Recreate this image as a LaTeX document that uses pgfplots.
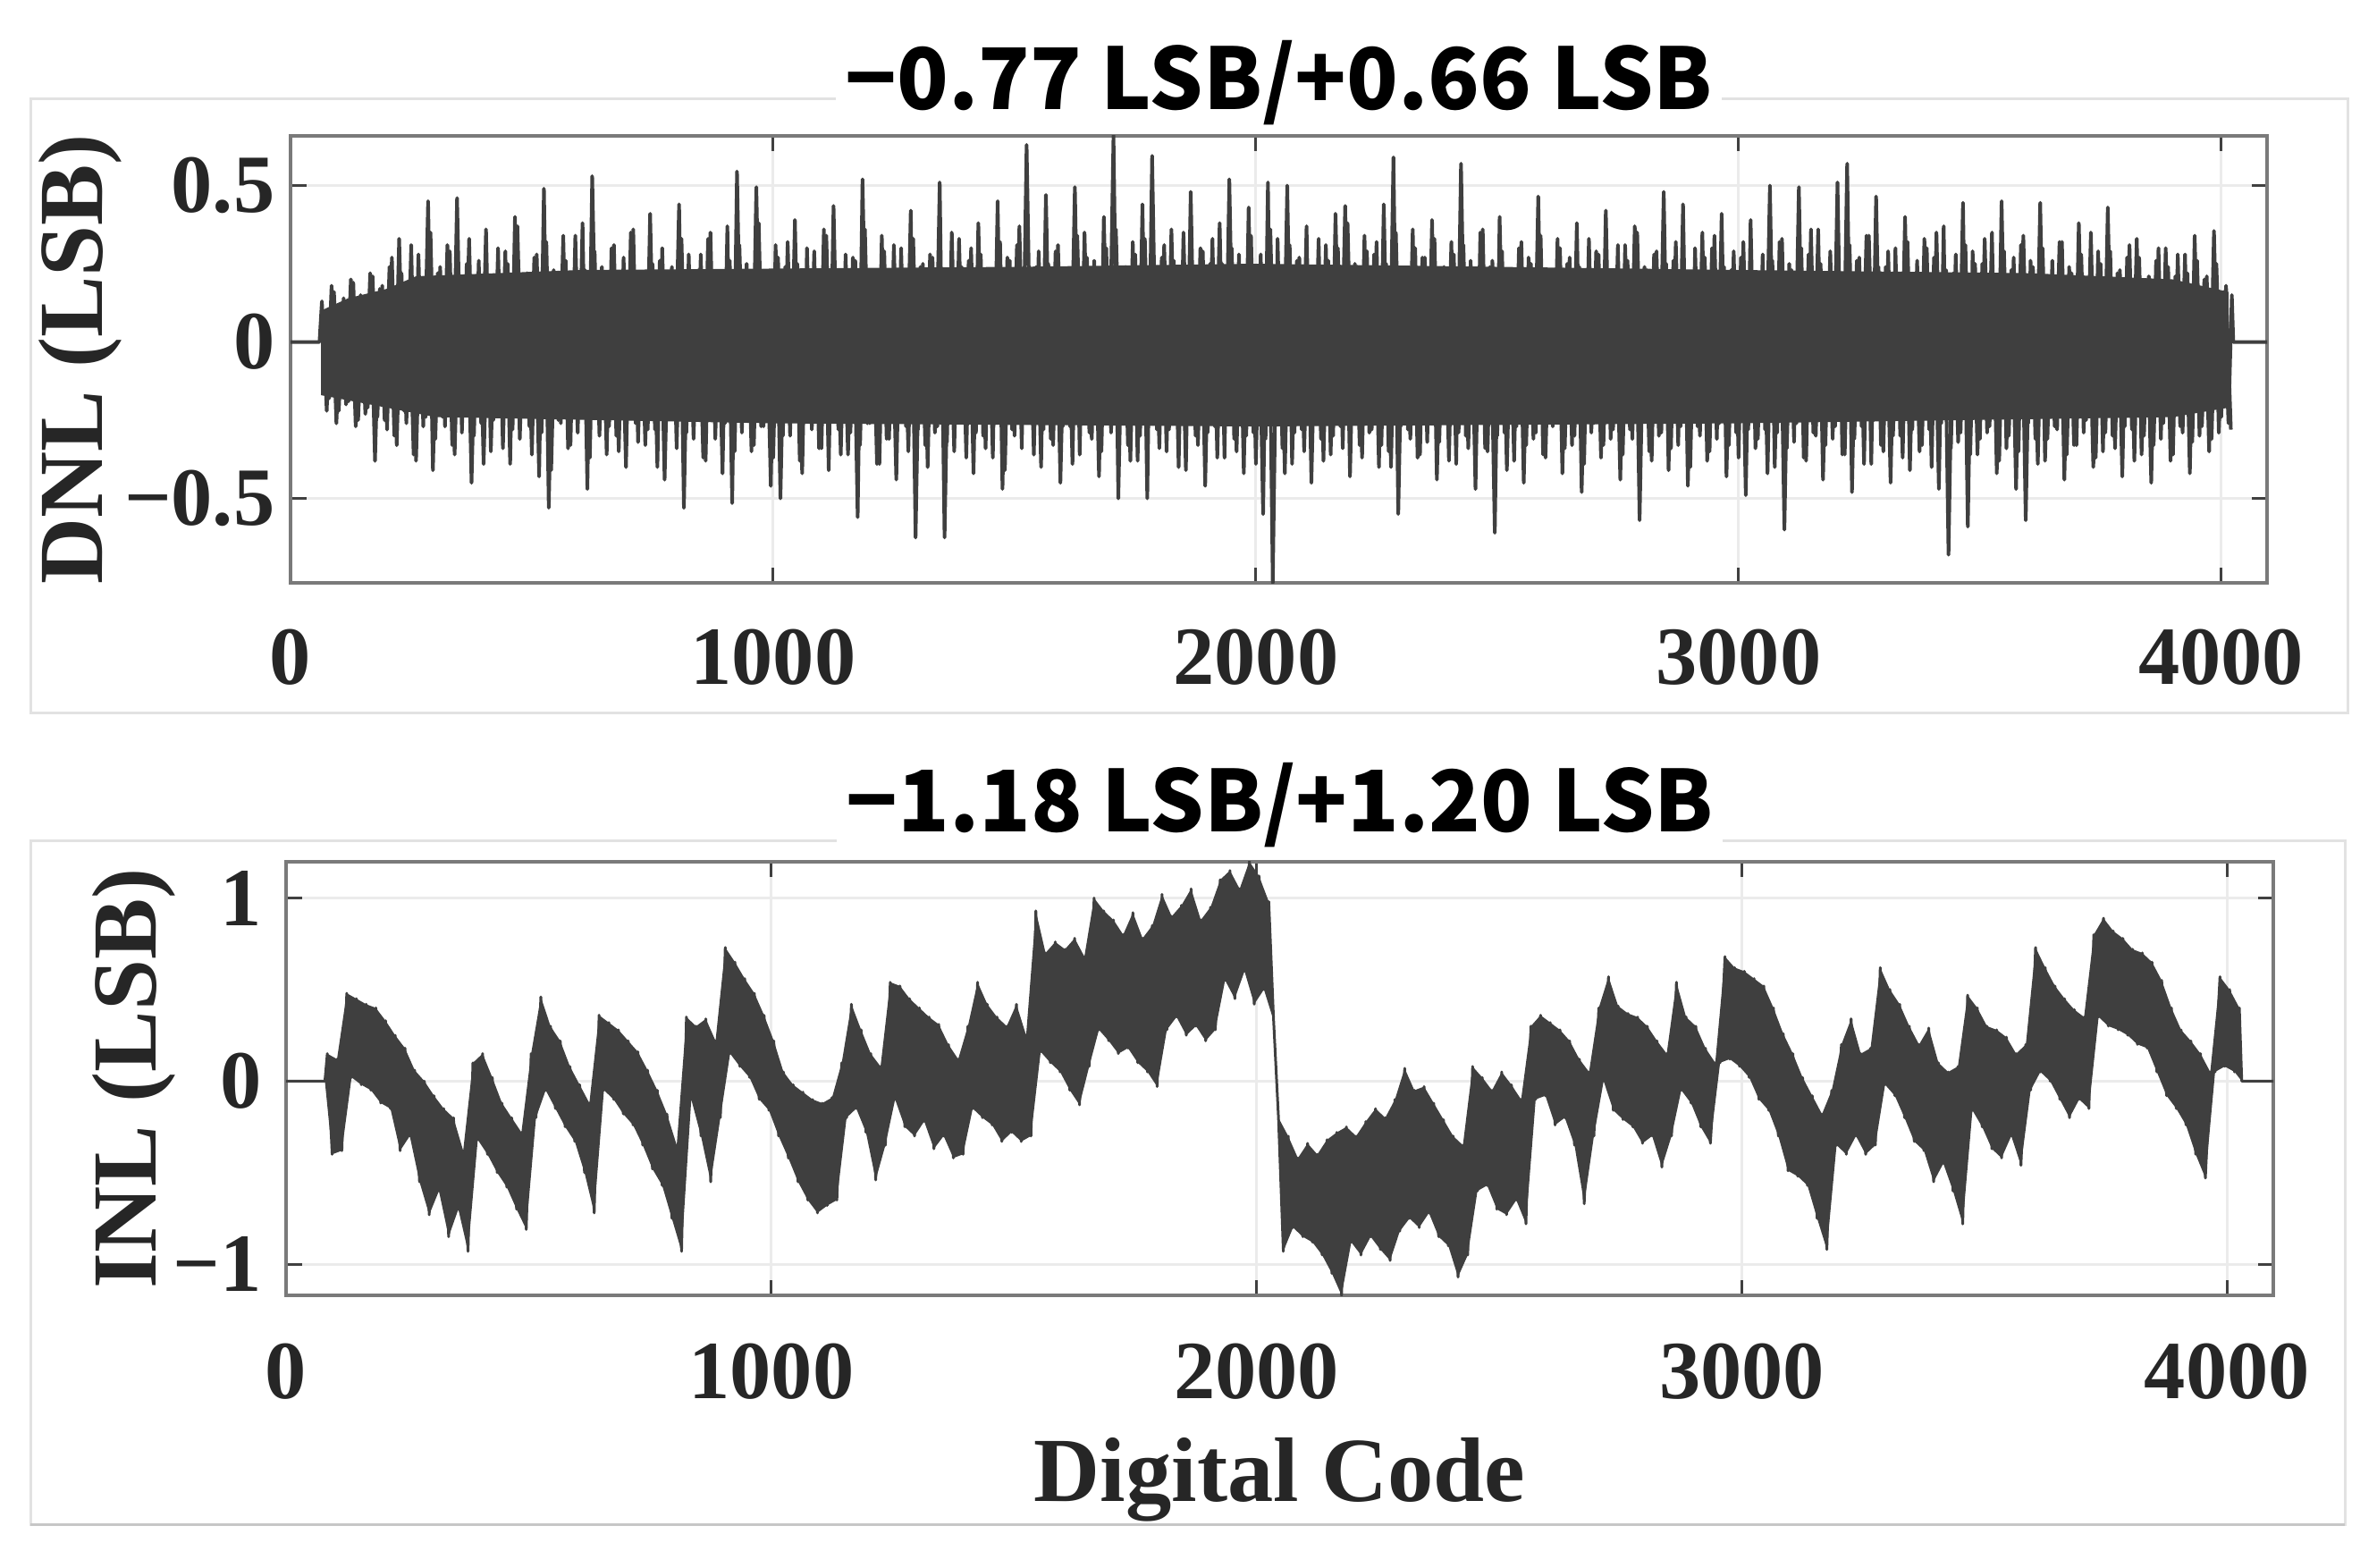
\documentclass[border=0pt]{standalone}
\usepackage{fontspec}
\setmainfont{Liberation Serif}
\newfontfamily\titlefont{Noto Sans CJK KR}
\usepackage{pgfplots}
\pgfplotsset{compat=1.18}
\definecolor{dat}{HTML}{3F3F3F}
\definecolor{axc}{HTML}{7A7A7A}
\definecolor{frm}{HTML}{E2E2E2}
\pgfplotsset{
  myax/.style={
    scale only axis, anchor=north west,
    xmin=0, xmax=4095,
    xtick={0,1000,2000,3000,4000},
    xticklabels={0,1000,2000,3000,4000},
    grid=major, major grid style={gray!16, line width=0.6pt},
    axis line style={axc, line width=0.8pt},
    tick style={black!75, line width=0.6pt},
    major tick length=3.5pt,
    tick align=inside,
    ticklabel style={font=\bfseries\fontsize{18.5}{20}\selectfont, text=black!85},
    every axis title/.style={at={(axis description cs:0.5,1)}, anchor=base,
      font=\titlefont\bfseries\fontsize{19}{22}\selectfont, fill=white, inner sep=2pt},
    every axis x label/.style={at={(axis description cs:0.5,0)}, anchor=base,
      font=\bfseries\fontsize{20.5}{22}\selectfont, text=black!85},
  }
}
\begin{document}
\begin{tikzpicture}
\path[use as bounding box] (0pt,0pt) rectangle (531.8pt,-350.6pt);
\draw[frm, line width=0.6pt] (6.8pt,-22pt) rectangle (525.2pt,-159.4pt);
\draw[frm, line width=0.6pt] (6.8pt,-188pt) rectangle (524.6pt,-341pt);
\draw[gray!45, line width=0.6pt] (6.8pt,-341pt) -- (524.6pt,-341pt);

\begin{axis}[myax,
  at={(65pt,-30.3pt)}, width=442.2pt, height=100.1pt,
  ymin=-0.77, ymax=0.66,
  ytick={-0.5,0,0.5}, yticklabels={−0.5,0,0.5},
  xticklabel style={anchor=base, yshift=-22.6pt},
  title={−0.77 LSB/+0.66 LSB},
  title style={yshift=5.9pt},
  ylabel={DNL (LSB)},
  every axis y label/.style={at={(axis description cs:0,0.5)}, xshift=-42.2pt, rotate=90, anchor=base,
      font=\bfseries\fontsize{20.5}{22}\selectfont, text=black!85},
]
\addplot[fill=dat, draw=none] coordinates {(63,0.10) (120,0.14) (200,0.17) (260,0.21) (600,0.23) (1500,0.24) (2000,0.25) (2500,0.24) (3000,0.23) (3600,0.22) (3900,0.20) (4015,0.16) (4015,-0.21) (3900,-0.24) (3000,-0.26) (2000,-0.27) (1000,-0.26) (300,-0.24) (200,-0.21) (63,-0.17)} --cycle;
% codes 70, 80, 90, ...
\addplot[dat, line width=0.8pt, line join=round] table[row sep=\\] {x y\\
70 0.10\\ 80 -0.18\\ 90 0.16\\ 100 -0.22\\ 110 0.14\\ 120 -0.19\\ 130 0.19\\ 140 -0.25\\ 150 0.12\\ 160 -0.21\\
170 0.21\\ 180 -0.24\\ 190 0.18\\ 200 -0.28\\ 210 0.27\\ 220 -0.33\\ 230 0.22\\ 240 -0.26\\ 250 0.31\\ 260 -0.38\\
270 0.19\\ 280 -0.24\\ 290 0.35\\ 300 -0.31\\ 310 0.24\\ 320 -0.27\\ 330 0.29\\ 340 -0.36\\ 350 0.21\\ 360 -0.23\\
370 0.33\\ 380 -0.30\\ 390 0.26\\ 400 -0.39\\ 410 0.18\\ 420 -0.25\\ 430 0.30\\ 440 -0.34\\ 450 0.25\\ 460 -0.28\\
470 0.37\\ 480 -0.22\\ 490 0.22\\ 500 -0.36\\ 510 0.28\\ 520 -0.29\\ 530 0.32\\ 540 -0.41\\ 550 0.20\\ 560 -0.26\\
570 0.26\\ 580 -0.33\\ 590 0.34\\ 600 -0.24\\ 610 0.23\\ 620 -0.37\\ 630 0.29\\ 640 -0.30\\ 650 0.19\\ 660 -0.27\\
670 0.31\\ 680 -0.35\\ 690 0.27\\ 700 -0.22\\ 710 0.36\\ 720 -0.32\\ 730 0.21\\ 740 -0.28\\ 750 0.25\\ 760 -0.40\\
770 0.30\\ 780 -0.25\\ 790 0.24\\ 800 -0.34\\ 810 0.33\\ 820 -0.29\\ 830 0.20\\ 840 -0.23\\ 850 0.28\\ 860 -0.38\\
870 0.35\\ 880 -0.31\\ 890 0.22\\ 900 -0.26\\ 910 0.26\\ 920 -0.35\\ 930 0.31\\ 940 -0.24\\ 950 0.19\\ 960 -0.33\\
970 0.38\\ 980 -0.27\\ 990 0.21\\ 1000 -0.37\\ 1010 0.27\\ 1020 -0.30\\ 1030 0.32\\ 1040 -0.25\\ 1050 0.25\\ 1060 -0.42\\
1070 0.30\\ 1080 -0.28\\ 1090 0.20\\ 1100 -0.34\\ 1110 0.34\\ 1120 -0.23\\ 1130 0.23\\ 1140 -0.36\\ 1150 0.28\\ 1160 -0.29\\
1170 0.26\\ 1180 -0.33\\ 1190 0.36\\ 1200 -0.26\\ 1210 0.22\\ 1220 -0.39\\ 1230 0.29\\ 1240 -0.31\\ 1250 0.31\\ 1260 -0.24\\
1270 0.19\\ 1280 -0.35\\ 1290 0.33\\ 1300 -0.28\\ 1310 0.25\\ 1320 -0.40\\ 1330 0.27\\ 1340 -0.27\\ 1350 0.21\\ 1360 -0.32\\
1370 0.35\\ 1380 -0.25\\ 1390 0.24\\ 1400 -0.37\\ 1410 0.30\\ 1420 -0.29\\ 1430 0.28\\ 1440 -0.34\\ 1450 0.22\\ 1460 -0.26\\
1470 0.32\\ 1480 -0.41\\ 1490 0.26\\ 1500 -0.30\\ 1510 0.37\\ 1520 -0.24\\ 1530 0.20\\ 1540 -0.36\\ 1550 0.29\\ 1560 -0.28\\
1570 0.25\\ 1580 -0.33\\ 1590 0.31\\ 1600 -0.27\\ 1610 0.23\\ 1620 -0.39\\ 1630 0.34\\ 1640 -0.25\\ 1650 0.27\\ 1660 -0.31\\
1670 0.21\\ 1680 -0.35\\ 1690 0.30\\ 1700 -0.29\\ 1710 0.36\\ 1720 -0.23\\ 1730 0.24\\ 1740 -0.38\\ 1750 0.28\\ 1760 -0.30\\
1770 0.33\\ 1780 -0.26\\ 1790 0.22\\ 1800 -0.34\\ 1810 0.31\\ 1820 -0.28\\ 1830 0.26\\ 1840 -0.40\\ 1850 0.35\\ 1860 -0.25\\
1870 0.23\\ 1880 -0.33\\ 1890 0.29\\ 1900 -0.29\\ 1910 0.33\\ 1920 -0.37\\ 1930 0.25\\ 1940 -0.26\\ 1950 0.30\\ 1960 -0.35\\
1970 0.21\\ 1980 -0.30\\ 1990 0.34\\ 2000 -0.39\\ 2010 0.28\\ 2020 -0.31\\ 2030 0.36\\ 2040 -0.27\\ 2050 0.24\\ 2060 -0.42\\
2070 0.31\\ 2080 -0.29\\ 2090 0.27\\ 2100 -0.35\\ 2110 0.22\\ 2120 -0.26\\ 2130 0.33\\ 2140 -0.38\\ 2150 0.26\\ 2160 -0.30\\
2170 0.30\\ 2180 -0.34\\ 2190 0.38\\ 2200 -0.25\\ 2210 0.23\\ 2220 -0.37\\ 2230 0.29\\ 2240 -0.28\\ 2250 0.32\\ 2260 -0.33\\
2270 0.25\\ 2280 -0.40\\ 2290 0.35\\ 2300 -0.27\\ 2310 0.21\\ 2320 -0.31\\ 2330 0.30\\ 2340 -0.36\\ 2350 0.27\\ 2360 -0.25\\
2370 0.33\\ 2380 -0.32\\ 2390 0.24\\ 2400 -0.38\\ 2410 0.28\\ 2420 -0.29\\ 2430 0.31\\ 2440 -0.34\\ 2450 0.22\\ 2460 -0.26\\
2470 0.36\\ 2480 -0.35\\ 2490 0.26\\ 2500 -0.30\\ 2510 0.29\\ 2520 -0.41\\ 2530 0.23\\ 2540 -0.27\\ 2550 0.32\\ 2560 -0.33\\
2570 0.25\\ 2580 -0.29\\ 2590 0.34\\ 2600 -0.37\\ 2610 0.20\\ 2620 -0.25\\ 2630 0.30\\ 2640 -0.34\\ 2650 0.27\\ 2660 -0.30\\
2670 0.24\\ 2680 -0.39\\ 2690 0.33\\ 2700 -0.26\\ 2710 0.28\\ 2720 -0.33\\ 2730 0.22\\ 2740 -0.28\\ 2750 0.31\\ 2760 -0.36\\
2770 0.26\\ 2780 -0.31\\ 2790 0.35\\ 2800 -0.25\\ 2810 0.23\\ 2820 -0.38\\ 2830 0.29\\ 2840 -0.29\\ 2850 0.25\\ 2860 -0.34\\
2870 0.32\\ 2880 -0.27\\ 2890 0.21\\ 2900 -0.40\\ 2910 0.30\\ 2920 -0.30\\ 2930 0.27\\ 2940 -0.35\\ 2950 0.34\\ 2960 -0.26\\
2970 0.24\\ 2980 -0.33\\ 2990 0.29\\ 3000 -0.37\\ 3010 0.32\\ 3020 -0.28\\ 3030 0.22\\ 3040 -0.31\\ 3050 0.28\\ 3060 -0.42\\
3070 0.26\\ 3080 -0.29\\ 3090 0.33\\ 3100 -0.34\\ 3110 0.23\\ 3120 -0.26\\ 3130 0.30\\ 3140 -0.38\\ 3150 0.36\\ 3160 -0.30\\
3170 0.25\\ 3180 -0.33\\ 3190 0.29\\ 3200 -0.27\\ 3210 0.21\\ 3220 -0.36\\ 3230 0.31\\ 3240 -0.31\\ 3250 0.27\\ 3260 -0.39\\
3270 0.34\\ 3280 -0.25\\ 3290 0.24\\ 3300 -0.35\\ 3310 0.29\\ 3320 -0.30\\ 3330 0.22\\ 3340 -0.37\\ 3350 0.32\\ 3360 -0.28\\
3370 0.26\\ 3380 -0.33\\ 3390 0.30\\ 3400 -0.40\\ 3410 0.35\\ 3420 -0.26\\ 3430 0.23\\ 3440 -0.34\\ 3450 0.28\\ 3460 -0.29\\
3470 0.31\\ 3480 -0.36\\ 3490 0.25\\ 3500 -0.31\\ 3510 0.33\\ 3520 -0.27\\ 3530 0.21\\ 3540 -0.38\\ 3550 0.29\\ 3560 -0.30\\
3570 0.27\\ 3580 -0.35\\ 3590 0.34\\ 3600 -0.26\\ 3610 0.24\\ 3620 -0.39\\ 3630 0.30\\ 3640 -0.31\\ 3650 0.26\\ 3660 -0.28\\
3670 0.32\\ 3680 -0.36\\ 3690 0.22\\ 3700 -0.33\\ 3710 0.28\\ 3720 -0.25\\ 3730 0.35\\ 3740 -0.37\\ 3750 0.25\\ 3760 -0.29\\
3770 0.29\\ 3780 -0.34\\ 3790 0.23\\ 3800 -0.27\\ 3810 0.31\\ 3820 -0.38\\ 3830 0.27\\ 3840 -0.30\\ 3850 0.21\\ 3860 -0.33\\
3870 0.30\\ 3880 -0.26\\ 3890 0.24\\ 3900 -0.36\\ 3910 0.28\\ 3920 -0.29\\ 3930 0.22\\ 3940 -0.32\\ 3950 0.26\\ 3960 -0.27\\
3970 0.21\\ 3980 -0.31\\ 3990 0.25\\ 4000 -0.24\\ 4010 0.18\\ 4020 -0.28\\
};
% codes 65, 75, 85, ...
\addplot[dat, line width=0.8pt, line join=round] table[row sep=\\] {x y\\
0 0\\ 60 0\\
65 0.13\\ 75 -0.22\\ 85 0.18\\ 95 -0.26\\ 105 0.11\\ 115 -0.20\\ 125 0.20\\ 135 -0.27\\ 145 0.15\\ 155 -0.23\\
165 0.22\\ 175 -0.38\\ 185 0.17\\ 195 -0.25\\ 205 0.24\\ 215 -0.30\\ 225 0.33\\ 235 -0.22\\ 245 0.19\\ 255 -0.36\\
265 0.28\\ 275 -0.27\\ 285 0.45\\ 295 -0.41\\ 305 0.22\\ 315 -0.24\\ 325 0.31\\ 335 -0.33\\ 345 0.46\\ 355 -0.29\\
365 0.25\\ 375 -0.45\\ 385 0.18\\ 395 -0.26\\ 405 0.36\\ 415 -0.35\\ 425 0.21\\ 435 -0.22\\ 445 0.29\\ 455 -0.39\\
465 0.40\\ 475 -0.31\\ 485 0.19\\ 495 -0.27\\ 505 0.27\\ 515 -0.43\\ 525 0.49\\ 535 -0.53\\ 545 0.23\\ 555 -0.25\\
565 0.34\\ 575 -0.34\\ 585 0.20\\ 595 -0.29\\ 605 0.38\\ 615 -0.47\\ 625 0.53\\ 635 -0.23\\ 645 0.24\\ 655 -0.36\\
665 0.30\\ 675 -0.30\\ 685 0.18\\ 695 -0.40\\ 705 0.35\\ 715 -0.26\\ 725 0.22\\ 735 -0.33\\ 745 0.41\\ 755 -0.28\\
765 0.26\\ 775 -0.44\\ 785 0.19\\ 795 -0.24\\ 805 0.44\\ 815 -0.53\\ 825 0.28\\ 835 -0.31\\ 845 0.23\\ 855 -0.37\\
865 0.33\\ 875 -0.25\\ 885 0.21\\ 895 -0.42\\ 905 0.37\\ 915 -0.515\\ 925 0.545\\ 935 -0.29\\ 945 0.25\\ 955 -0.35\\
965 0.495\\ 975 -0.27\\ 985 0.20\\ 995 -0.46\\ 1005 0.31\\ 1015 -0.50\\ 1025 0.24\\ 1035 -0.30\\ 1045 0.39\\ 1055 -0.38\\
1065 0.22\\ 1075 -0.24\\ 1085 0.29\\ 1095 -0.34\\ 1105 0.36\\ 1115 -0.41\\ 1125 0.435\\ 1135 -0.28\\ 1145 0.19\\ 1155 -0.36\\
1165 0.27\\ 1175 -0.56\\ 1185 0.52\\ 1195 -0.26\\ 1205 0.23\\ 1215 -0.39\\ 1225 0.34\\ 1235 -0.31\\ 1245 0.20\\ 1255 -0.44\\
1265 0.30\\ 1275 -0.27\\ 1285 0.42\\ 1295 -0.625\\ 1305 0.24\\ 1315 -0.33\\ 1325 0.28\\ 1335 -0.29\\ 1345 0.51\\ 1355 -0.625\\
1365 0.21\\ 1375 -0.35\\ 1385 0.33\\ 1395 -0.25\\ 1405 0.26\\ 1415 -0.42\\ 1425 0.38\\ 1435 -0.30\\ 1445 0.22\\ 1455 -0.37\\
1465 0.45\\ 1475 -0.47\\ 1485 0.27\\ 1495 -0.28\\ 1505 0.31\\ 1515 -0.34\\ 1525 0.63\\ 1535 -0.26\\ 1545 0.24\\ 1555 -0.40\\
1565 0.47\\ 1575 -0.31\\ 1585 0.29\\ 1595 -0.45\\ 1605 0.21\\ 1615 -0.27\\ 1625 0.495\\ 1635 -0.36\\ 1645 0.35\\ 1655 -0.29\\
1665 0.26\\ 1675 -0.43\\ 1685 0.40\\ 1695 -0.25\\ 1705 0.66\\ 1715 -0.50\\ 1725 0.23\\ 1735 -0.33\\ 1745 0.32\\ 1755 -0.38\\
1765 0.44\\ 1775 -0.50\\ 1785 0.595\\ 1795 -0.28\\ 1805 0.27\\ 1815 -0.35\\ 1825 0.36\\ 1835 -0.26\\ 1845 0.22\\ 1855 -0.41\\
1865 0.48\\ 1875 -0.30\\ 1885 0.30\\ 1895 -0.46\\ 1905 0.25\\ 1915 -0.27\\ 1925 0.38\\ 1935 -0.37\\ 1945 0.52\\ 1955 -0.31\\
1965 0.28\\ 1975 -0.42\\ 1985 0.43\\ 1995 -0.29\\ 2005 0.24\\ 2015 -0.55\\ 2025 0.51\\ 2035 -0.77\\ 2045 0.33\\ 2055 -0.34\\
2065 0.50\\ 2075 -0.39\\ 2085 0.26\\ 2095 -0.28\\ 2105 0.37\\ 2115 -0.45\\ 2125 0.22\\ 2135 -0.31\\ 2145 0.31\\ 2155 -0.36\\
2165 0.41\\ 2175 -0.27\\ 2185 0.435\\ 2195 -0.43\\ 2205 0.25\\ 2215 -0.33\\ 2225 0.34\\ 2235 -0.29\\ 2245 0.28\\ 2255 -0.40\\
2265 0.44\\ 2275 -0.35\\ 2285 0.59\\ 2295 -0.55\\ 2305 0.23\\ 2315 -0.28\\ 2325 0.36\\ 2335 -0.37\\ 2345 0.27\\ 2355 -0.32\\
2365 0.39\\ 2375 -0.44\\ 2385 0.21\\ 2395 -0.26\\ 2405 0.32\\ 2415 -0.39\\ 2425 0.57\\ 2435 -0.30\\ 2445 0.26\\ 2455 -0.47\\
2465 0.35\\ 2475 -0.34\\ 2485 0.24\\ 2495 -0.61\\ 2505 0.40\\ 2515 -0.29\\ 2525 0.22\\ 2535 -0.38\\ 2545 0.30\\ 2555 -0.45\\
2565 0.27\\ 2575 -0.31\\ 2585 0.465\\ 2595 -0.36\\ 2605 0.21\\ 2615 -0.27\\ 2625 0.33\\ 2635 -0.42\\ 2645 0.25\\ 2655 -0.33\\
2665 0.38\\ 2675 -0.48\\ 2685 0.23\\ 2695 -0.29\\ 2705 0.29\\ 2715 -0.37\\ 2725 0.42\\ 2735 -0.31\\ 2745 0.20\\ 2755 -0.44\\
2765 0.31\\ 2775 -0.28\\ 2785 0.37\\ 2795 -0.57\\ 2805 0.24\\ 2815 -0.35\\ 2825 0.28\\ 2835 -0.30\\ 2845 0.48\\ 2855 -0.41\\
2865 0.26\\ 2875 -0.33\\ 2885 0.44\\ 2895 -0.46\\ 2905 0.22\\ 2915 -0.27\\ 2925 0.35\\ 2935 -0.38\\ 2945 0.30\\ 2955 -0.31\\
2965 0.41\\ 2975 -0.43\\ 2985 0.23\\ 2995 -0.29\\ 3005 0.27\\ 3015 -0.49\\ 3025 0.39\\ 3035 -0.34\\ 3045 0.21\\ 3055 -0.28\\
3065 0.50\\ 3075 -0.40\\ 3085 0.32\\ 3095 -0.60\\ 3105 0.25\\ 3115 -0.32\\ 3125 0.495\\ 3135 -0.37\\ 3145 0.28\\ 3155 -0.29\\
3165 0.36\\ 3175 -0.44\\ 3185 0.22\\ 3195 -0.31\\ 3205 0.51\\ 3215 -0.36\\ 3225 0.57\\ 3235 -0.48\\ 3245 0.26\\ 3255 -0.27\\
3265 0.34\\ 3275 -0.39\\ 3285 0.465\\ 3295 -0.33\\ 3305 0.24\\ 3315 -0.45\\ 3325 0.30\\ 3335 -0.30\\ 3345 0.40\\ 3355 -0.41\\
3365 0.21\\ 3375 -0.35\\ 3385 0.33\\ 3395 -0.28\\ 3405 0.27\\ 3415 -0.47\\ 3425 0.37\\ 3435 -0.68\\ 3445 0.22\\ 3455 -0.32\\
3465 0.445\\ 3475 -0.59\\ 3485 0.29\\ 3495 -0.36\\ 3505 0.25\\ 3515 -0.29\\ 3525 0.35\\ 3535 -0.42\\ 3545 0.45\\ 3555 -0.34\\
3565 0.23\\ 3575 -0.47\\ 3585 0.31\\ 3595 -0.57\\ 3605 0.26\\ 3615 -0.31\\ 3625 0.445\\ 3635 -0.38\\ 3645 0.21\\ 3655 -0.27\\
3665 0.32\\ 3675 -0.44\\ 3685 0.24\\ 3695 -0.33\\ 3705 0.38\\ 3715 -0.29\\ 3725 0.20\\ 3735 -0.40\\ 3745 0.29\\ 3755 -0.35\\
3765 0.43\\ 3775 -0.30\\ 3785 0.22\\ 3795 -0.43\\ 3805 0.27\\ 3815 -0.28\\ 3825 0.33\\ 3835 -0.36\\ 3845 0.19\\ 3855 -0.45\\
3865 0.26\\ 3875 -0.31\\ 3885 0.30\\ 3895 -0.38\\ 3905 0.21\\ 3915 -0.27\\ 3925 0.28\\ 3935 -0.42\\ 3945 0.34\\ 3955 -0.30\\
3965 0.20\\ 3975 -0.35\\ 3985 0.355\\ 3995 -0.29\\ 4005 0.16\\ 4015 -0.26\\ 4022 0.15\\ 4025 0\\ 4095 0\\
};
\end{axis}

\begin{axis}[myax,
  at={(64pt,-192.7pt)}, width=444.6pt, height=97.1pt,
  ymin=-1.17, ymax=1.20,
  ytick={-1,0,1}, yticklabels={−1,0,1},
  yticklabel style={xshift=-2pt},
  xticklabel style={anchor=base, yshift=-23pt},
  title={−1.18 LSB/+1.20 LSB},
  title style={yshift=6.6pt},
  ylabel={INL (LSB)},
  every axis y label/.style={at={(axis description cs:0,0.5)}, xshift=-29.2pt, rotate=90, anchor=base,
      font=\bfseries\fontsize{20.5}{22}\selectfont, text=black!85},
  xlabel={Digital Code},
  xlabel style={yshift=-46pt},
]
% band: upper envelope left to right, lower envelope right to left
\addplot[fill=dat, draw=none] coordinates {
(80,0)(85,0.15)(105,0.12)(125,0.48)(145,0.45)(165,0.42)(185,0.40)(205,0.33)(225,0.25)(245,0.18)(265,0.06)(285,0.00)(305,-0.08)(325,-0.15)(345,-0.20)(365,-0.38)
(385,0.10)(405,0.15)(425,0.02)(445,-0.12)(465,-0.20)(485,-0.28)
(505,0.15)(525,0.46)(545,0.30)(565,0.22)(585,0.08)(605,-0.02)(625,-0.12)
(645,0.36)(665,0.32)(685,0.28)(705,0.22)(725,0.16)(745,0.06)(765,-0.05)(785,-0.18)(805,-0.35)
(825,0.35)(845,0.30)(865,0.34)(885,0.22)
(905,0.73)(925,0.65)(945,0.56)(965,0.48)(985,0.36)(1005,0.22)(1025,0.05)(1045,-0.02)(1065,-0.06)(1085,-0.10)(1105,-0.12)(1125,-0.09)
(1145,0.10)(1165,0.42)(1185,0.28)(1205,0.15)(1225,0.08)
(1245,0.54)(1265,0.52)(1285,0.45)(1305,0.40)(1325,0.35)(1345,0.31)(1365,0.20)(1385,0.12)
(1405,0.30)(1425,0.54)(1445,0.42)(1465,0.35)(1485,0.30)(1505,0.42)(1525,0.25)
(1545,0.93)(1565,0.70)(1585,0.76)(1605,0.72)(1625,0.78)(1645,0.68)
(1665,1.00)(1685,0.93)(1705,0.88)(1725,0.80)(1745,0.92)(1765,0.78)(1785,0.85)
(1805,1.02)(1825,0.90)(1845,0.96)(1865,1.05)(1885,0.88)(1905,0.95)
(1925,1.10)(1945,1.15)(1965,1.05)(1985,1.20)(2005,1.12)(2025,0.98)
(2045,-0.20)(2065,-0.30)(2085,-0.42)(2105,-0.34)(2125,-0.40)(2145,-0.32)(2165,-0.28)(2185,-0.25)(2205,-0.30)(2225,-0.22)(2245,-0.15)(2265,-0.20)(2285,-0.10)(2305,0.07)(2325,-0.05)(2345,-0.03)(2365,-0.12)(2385,-0.21)(2405,-0.30)(2425,-0.35)
(2445,0.08)(2465,0.02)(2485,-0.05)(2505,0.05)(2525,-0.02)(2545,-0.10)
(2565,0.30)(2585,0.36)(2605,0.32)(2625,0.28)(2645,0.22)(2665,0.12)(2685,0.05)
(2705,0.40)(2725,0.57)(2745,0.41)(2765,0.37)(2785,0.35)(2805,0.30)(2825,0.22)(2845,0.15)
(2865,0.54)(2885,0.35)(2905,0.30)(2925,0.18)(2945,0.10)
(2965,0.68)(2985,0.62)(3005,0.60)(3025,0.56)(3045,0.52)(3065,0.40)(3085,0.26)(3105,0.15)(3125,0.02)(3145,-0.08)(3165,-0.18)
(3185,-0.05)(3205,0.20)(3225,0.34)(3245,0.15)(3265,0.18)
(3285,0.62)(3305,0.50)(3325,0.42)(3345,0.30)(3365,0.20)(3385,0.29)(3405,0.10)(3425,0.05)(3445,0.08)
(3465,0.47)(3485,0.40)(3505,0.30)(3525,0.28)(3545,0.24)(3565,0.15)
(3585,0.20)(3605,0.73)(3625,0.62)(3645,0.52)(3665,0.45)(3685,0.39)(3705,0.35)
(3725,0.80)(3745,0.89)(3765,0.82)(3785,0.78)(3805,0.72)(3825,0.70)(3845,0.65)(3865,0.55)(3885,0.40)(3905,0.28)(3925,0.22)(3945,0.15)(3965,0.05)
(3985,0.57)(4005,0.50)(4025,0.40)(4030,0)
(4015,0.05)(3995,0.08)(3975,0.05)(3955,-0.53)(3935,-0.40)(3915,-0.24)(3895,-0.15)(3875,-0.08)(3855,0.05)(3835,0.18)(3815,0.20)(3795,0.25)(3775,0.28)(3755,0.30)(3735,0.35)
(3715,-0.15)(3695,-0.10)(3675,-0.20)(3655,-0.10)(3635,0.00)(3615,0.05)(3595,-0.05)
(3575,-0.46)(3555,-0.30)(3535,-0.42)(3515,-0.37)(3495,-0.25)(3475,-0.16)
(3455,-0.78)(3435,-0.60)(3415,-0.45)(3395,-0.55)(3375,-0.38)(3355,-0.33)(3335,-0.20)(3315,-0.08)(3295,-0.02)
(3275,-0.35)(3255,-0.40)(3235,-0.30)(3215,-0.40)(3195,-0.35)
(3175,-0.92)(3155,-0.75)(3135,-0.57)(3115,-0.52)(3095,-0.49)(3075,-0.30)(3055,-0.16)(3035,-0.10)(3015,0.02)(2995,0.08)(2975,0.12)(2955,0.10)
(2935,-0.34)(2915,-0.25)(2895,-0.12)(2875,-0.05)
(2855,-0.30)(2835,-0.47)(2815,-0.30)(2795,-0.34)(2775,-0.25)(2755,-0.21)(2735,-0.16)(2715,0.00)
(2695,-0.30)(2675,-0.67)(2655,-0.35)(2635,-0.20)(2615,-0.24)(2595,-0.08)(2575,-0.10)
(2555,-0.78)(2535,-0.65)(2515,-0.73)(2495,-0.70)(2475,-0.57)(2455,-0.60)
(2435,-0.95)(2415,-1.07)(2395,-0.90)(2375,-0.85)(2355,-0.72)(2335,-0.80)(2315,-0.75)(2295,-0.82)(2275,-0.98)(2255,-0.92)(2235,-0.85)(2215,-0.95)(2195,-0.88)(2175,-1.17)(2155,-1.05)(2135,-0.95)(2115,-0.88)(2095,-0.85)(2075,-0.80)(2055,-0.93)
(2035,0.33)(2015,0.50)(1995,0.42)(1975,0.60)(1955,0.45)(1935,0.55)
(1915,0.28)(1895,0.22)(1875,0.30)(1855,0.25)(1835,0.35)(1815,0.28)
(1795,-0.03)(1775,0.05)(1755,0.10)(1735,0.18)(1715,0.15)(1695,0.22)(1675,0.28)
(1655,0.08)(1635,-0.13)(1615,-0.05)(1595,0.05)(1575,0.10)(1555,0.16)
(1535,-0.30)(1515,-0.33)(1495,-0.28)(1475,-0.33)(1455,-0.24)(1435,-0.20)(1415,-0.15)
(1395,-0.40)(1375,-0.42)(1355,-0.30)(1335,-0.37)(1315,-0.22)(1295,-0.30)(1275,-0.25)(1255,-0.10)
(1235,-0.35)(1215,-0.54)(1195,-0.28)(1175,-0.15)(1155,-0.20)
(1135,-0.65)(1115,-0.68)(1095,-0.72)(1075,-0.65)(1055,-0.55)(1035,-0.42)(1015,-0.30)(995,-0.16)(975,-0.10)(955,0.02)(935,0.08)(915,0.15)
(895,-0.20)(875,-0.55)(855,-0.30)(835,-0.10)
(815,-0.93)(795,-0.75)(775,-0.57)(755,-0.48)(735,-0.35)(715,-0.24)(695,-0.18)(675,-0.10)(655,-0.05)
(635,-0.72)(615,-0.50)(595,-0.33)(575,-0.25)(555,-0.15)(535,-0.05)(515,-0.20)
(495,-0.81)(475,-0.70)(455,-0.58)(435,-0.50)(415,-0.40)(395,-0.32)
(375,-0.93)(355,-0.70)(335,-0.85)(315,-0.60)(295,-0.73)(275,-0.55)(255,-0.30)(235,-0.38)(215,-0.15)(195,-0.12)(175,-0.05)(155,-0.02)(135,0.02)
(115,-0.38)(95,-0.40)
} --cycle;
\addplot[dat, line width=0.6pt, line join=round] table[row sep=\\] {x y\\
0 0\\ 80 0\\
85 0.15\\ 95 -0.40\\ 105 0.12\\ 115 -0.38\\
125 0.48\\ 135 0.02\\ 145 0.45\\ 155 -0.02\\ 165 0.42\\ 175 -0.05\\ 185 0.40\\ 195 -0.12\\ 205 0.33\\ 215 -0.15\\
225 0.25\\ 235 -0.38\\ 245 0.18\\ 255 -0.30\\ 265 0.06\\ 275 -0.55\\ 285 0.00\\ 295 -0.73\\ 305 -0.08\\ 315 -0.60\\
325 -0.15\\ 335 -0.85\\ 345 -0.20\\ 355 -0.70\\ 365 -0.38\\ 375 -0.93\\
385 0.10\\ 395 -0.32\\ 405 0.15\\ 415 -0.40\\ 425 0.02\\ 435 -0.50\\ 445 -0.12\\ 455 -0.58\\ 465 -0.20\\ 475 -0.70\\ 485 -0.28\\ 495 -0.81\\
505 0.15\\ 515 -0.20\\ 525 0.46\\ 535 -0.05\\ 545 0.30\\ 555 -0.15\\ 565 0.22\\ 575 -0.25\\ 585 0.08\\ 595 -0.33\\ 605 -0.02\\ 615 -0.50\\ 625 -0.12\\ 635 -0.72\\
645 0.36\\ 655 -0.05\\ 665 0.32\\ 675 -0.10\\ 685 0.28\\ 695 -0.18\\ 705 0.22\\ 715 -0.24\\ 725 0.16\\ 735 -0.35\\
745 0.06\\ 755 -0.48\\ 765 -0.05\\ 775 -0.57\\ 785 -0.18\\ 795 -0.75\\ 805 -0.35\\ 815 -0.93\\
825 0.35\\ 835 -0.10\\ 845 0.30\\ 855 -0.30\\ 865 0.34\\ 875 -0.55\\ 885 0.22\\ 895 -0.20\\
905 0.73\\ 915 0.15\\ 925 0.65\\ 935 0.08\\ 945 0.56\\ 955 0.02\\ 965 0.48\\ 975 -0.10\\ 985 0.36\\ 995 -0.16\\
1005 0.22\\ 1015 -0.30\\ 1025 0.05\\ 1035 -0.42\\ 1045 -0.02\\ 1055 -0.55\\ 1065 -0.06\\ 1075 -0.65\\ 1085 -0.10\\ 1095 -0.72\\
1105 -0.12\\ 1115 -0.68\\ 1125 -0.09\\ 1135 -0.65\\
1145 0.10\\ 1155 -0.20\\ 1165 0.42\\ 1175 -0.15\\ 1185 0.28\\ 1195 -0.28\\ 1205 0.15\\ 1215 -0.54\\ 1225 0.08\\ 1235 -0.35\\
1245 0.54\\ 1255 -0.10\\ 1265 0.52\\ 1275 -0.25\\ 1285 0.45\\ 1295 -0.30\\ 1305 0.40\\ 1315 -0.22\\ 1325 0.35\\ 1335 -0.37\\
1345 0.31\\ 1355 -0.30\\ 1365 0.20\\ 1375 -0.42\\ 1385 0.12\\ 1395 -0.40\\
1405 0.30\\ 1415 -0.15\\ 1425 0.54\\ 1435 -0.20\\ 1445 0.42\\ 1455 -0.24\\ 1465 0.35\\ 1475 -0.33\\ 1485 0.30\\ 1495 -0.28\\
1505 0.42\\ 1515 -0.33\\ 1525 0.25\\ 1535 -0.30\\
1545 0.93\\ 1555 0.16\\ 1565 0.70\\ 1575 0.10\\ 1585 0.76\\ 1595 0.05\\ 1605 0.72\\ 1615 -0.05\\ 1625 0.78\\ 1635 -0.13\\ 1645 0.68\\ 1655 0.08\\
1665 1.00\\ 1675 0.28\\ 1685 0.93\\ 1695 0.22\\ 1705 0.88\\ 1715 0.15\\ 1725 0.80\\ 1735 0.18\\ 1745 0.92\\ 1755 0.10\\
1765 0.78\\ 1775 0.05\\ 1785 0.85\\ 1795 -0.03\\
1805 1.02\\ 1815 0.28\\ 1825 0.90\\ 1835 0.35\\ 1845 0.96\\ 1855 0.25\\ 1865 1.05\\ 1875 0.30\\ 1885 0.88\\ 1895 0.22\\ 1905 0.95\\ 1915 0.28\\
1925 1.10\\ 1935 0.55\\ 1945 1.15\\ 1955 0.45\\ 1965 1.05\\ 1975 0.60\\ 1985 1.20\\ 1995 0.42\\ 2005 1.12\\ 2015 0.50\\ 2025 0.98\\ 2035 0.33\\
2045 -0.20\\ 2055 -0.93\\ 2065 -0.30\\ 2075 -0.80\\ 2085 -0.42\\ 2095 -0.85\\ 2105 -0.34\\ 2115 -0.88\\ 2125 -0.40\\ 2135 -0.95\\
2145 -0.32\\ 2155 -1.05\\ 2165 -0.28\\ 2175 -1.17\\ 2185 -0.25\\ 2195 -0.88\\ 2205 -0.30\\ 2215 -0.95\\ 2225 -0.22\\ 2235 -0.85\\
2245 -0.15\\ 2255 -0.92\\ 2265 -0.20\\ 2275 -0.98\\ 2285 -0.10\\ 2295 -0.82\\ 2305 0.07\\ 2315 -0.75\\ 2325 -0.05\\ 2335 -0.80\\
2345 -0.03\\ 2355 -0.72\\ 2365 -0.12\\ 2375 -0.85\\ 2385 -0.21\\ 2395 -0.90\\ 2405 -0.30\\ 2415 -1.07\\ 2425 -0.35\\ 2435 -0.95\\
2445 0.08\\ 2455 -0.60\\ 2465 0.02\\ 2475 -0.57\\ 2485 -0.05\\ 2495 -0.70\\ 2505 0.05\\ 2515 -0.73\\ 2525 -0.02\\ 2535 -0.65\\ 2545 -0.10\\ 2555 -0.78\\
2565 0.30\\ 2575 -0.10\\ 2585 0.36\\ 2595 -0.08\\ 2605 0.32\\ 2615 -0.24\\ 2625 0.28\\ 2635 -0.20\\ 2645 0.22\\ 2655 -0.35\\ 2665 0.12\\ 2675 -0.67\\ 2685 0.05\\ 2695 -0.30\\
2705 0.40\\ 2715 0.00\\ 2725 0.57\\ 2735 -0.16\\ 2745 0.41\\ 2755 -0.21\\ 2765 0.37\\ 2775 -0.25\\ 2785 0.35\\ 2795 -0.34\\
2805 0.30\\ 2815 -0.30\\ 2825 0.22\\ 2835 -0.47\\ 2845 0.15\\ 2855 -0.30\\
2865 0.54\\ 2875 -0.05\\ 2885 0.35\\ 2895 -0.12\\ 2905 0.30\\ 2915 -0.25\\ 2925 0.18\\ 2935 -0.34\\ 2945 0.10\\ 2955 0.10\\
2965 0.68\\ 2975 0.12\\ 2985 0.62\\ 2995 0.08\\ 3005 0.60\\ 3015 0.02\\ 3025 0.56\\ 3035 -0.10\\ 3045 0.52\\ 3055 -0.16\\
3065 0.40\\ 3075 -0.30\\ 3085 0.26\\ 3095 -0.49\\ 3105 0.15\\ 3115 -0.52\\ 3125 0.02\\ 3135 -0.57\\ 3145 -0.08\\ 3155 -0.75\\ 3165 -0.18\\ 3175 -0.92\\
3185 -0.05\\ 3195 -0.35\\ 3205 0.20\\ 3215 -0.40\\ 3225 0.34\\ 3235 -0.30\\ 3245 0.15\\ 3255 -0.40\\ 3265 0.18\\ 3275 -0.35\\
3285 0.62\\ 3295 -0.02\\ 3305 0.50\\ 3315 -0.08\\ 3325 0.42\\ 3335 -0.20\\ 3345 0.30\\ 3355 -0.33\\ 3365 0.20\\ 3375 -0.38\\
3385 0.29\\ 3395 -0.55\\ 3405 0.10\\ 3415 -0.45\\ 3425 0.05\\ 3435 -0.60\\ 3445 0.08\\ 3455 -0.78\\
3465 0.47\\ 3475 -0.16\\ 3485 0.40\\ 3495 -0.25\\ 3505 0.30\\ 3515 -0.37\\ 3525 0.28\\ 3535 -0.42\\ 3545 0.24\\ 3555 -0.30\\ 3565 0.15\\ 3575 -0.46\\
3585 0.20\\ 3595 -0.05\\ 3605 0.73\\ 3615 0.05\\ 3625 0.62\\ 3635 0.00\\ 3645 0.52\\ 3655 -0.10\\ 3665 0.45\\ 3675 -0.20\\ 3685 0.39\\ 3695 -0.10\\ 3705 0.35\\ 3715 -0.15\\
3725 0.80\\ 3735 0.35\\ 3745 0.89\\ 3755 0.30\\ 3765 0.82\\ 3775 0.28\\ 3785 0.78\\ 3795 0.25\\ 3805 0.72\\ 3815 0.20\\
3825 0.70\\ 3835 0.18\\ 3845 0.65\\ 3855 0.05\\ 3865 0.55\\ 3875 -0.08\\ 3885 0.40\\ 3895 -0.15\\ 3905 0.28\\ 3915 -0.24\\
3925 0.22\\ 3935 -0.40\\ 3945 0.15\\ 3955 -0.53\\ 3965 0.05\\ 3975 0.05\\
3985 0.57\\ 3995 0.08\\ 4005 0.50\\ 4015 0.05\\ 4025 0.40\\ 4030 0\\ 4095 0\\
};
\end{axis}
\end{tikzpicture}
\end{document}
